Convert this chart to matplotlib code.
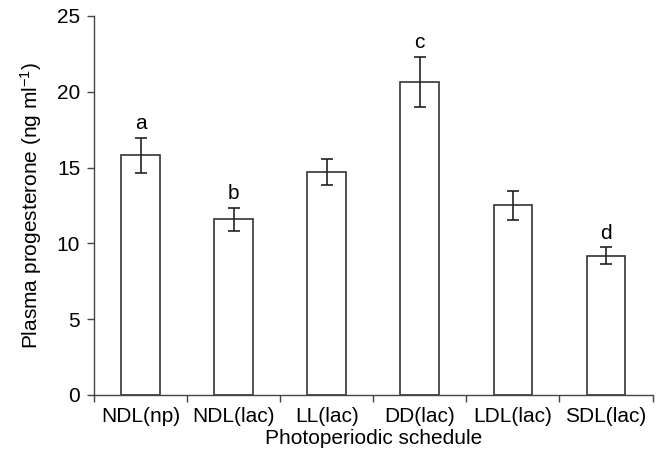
import numpy as np
import matplotlib.pyplot as plt
from matplotlib.ticker import FixedLocator, NullFormatter

plt.rcParams['font.family'] = ['Liberation Sans', 'DejaVu Sans']
plt.rcParams['mathtext.default'] = 'regular'

# data
schedules = ['NDL(np)', 'NDL(lac)', 'LL(lac)', 'DD(lac)', 'LDL(lac)', 'SDL(lac)']
progesterone = [15.8, 11.6, 14.7, 20.65, 12.5, 9.2]
sem = [1.15, 0.75, 0.85, 1.65, 0.95, 0.55]
letters = ['a', 'b', '', 'c', '', 'd']

fig = plt.figure(figsize=(6.64, 4.57), dpi=100)
ax = fig.add_axes([0.1416, 0.1357, 0.8411, 0.8293])

x = np.arange(len(schedules))
ax.bar(x, progesterone, width=0.415, color='white', edgecolor='#333333', linewidth=1.2,
       yerr=sem, error_kw=dict(ecolor='#222222', elinewidth=1.2, capsize=4, capthick=1.2))

for xi, v, e, lab in zip(x, progesterone, sem, letters):
    if lab:
        ax.text(xi, v + e + 0.3, lab, ha='center', va='bottom', fontsize=15)

ax.set_xlim(-0.5, len(schedules) - 0.5)
ax.set_ylim(0, 25)
ax.set_yticks([0, 5, 10, 15, 20, 25])
ax.set_xticks(x)
ax.set_xticklabels(schedules)
ax.tick_params(axis='x', which='major', length=0, labelsize=15, pad=9)
ax.xaxis.set_minor_locator(FixedLocator(np.arange(-0.5, len(schedules), 1.0)))
ax.xaxis.set_minor_formatter(NullFormatter())
ax.tick_params(axis='x', which='minor', length=5, width=1, color='#444444')
ax.tick_params(axis='y', length=5, width=1, color='#444444', labelsize=15, pad=5)

for s in ['top', 'right']:
    ax.spines[s].set_visible(False)
for s in ['left', 'bottom']:
    ax.spines[s].set_color('#444444')
    ax.spines[s].set_linewidth(1)

ax.set_xlabel('Photoperiodic schedule', fontsize=15, labelpad=2)
ax.set_ylabel('Plasma progesterone (ng ml$^{-1}$)', fontsize=15, labelpad=9)

fig.savefig('out.png', dpi=100)
